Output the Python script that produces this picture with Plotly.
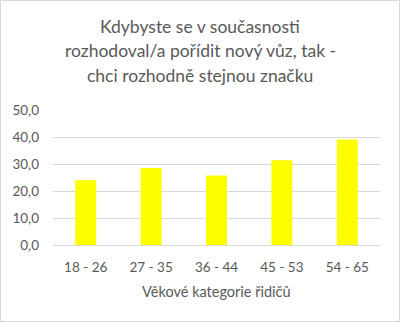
import plotly.graph_objects as go

categories = ["18 - 26", "27 - 35", "36 - 44", "45 - 53", "54 - 65"]
values = [24.0, 28.5, 25.7, 31.4, 39.1]
title_lines = ["Kdybyste se v současnosti",
               "rozhodoval/a pořídit nový vůz, tak -",
               "chci rozhodně stejnou značku"]
x_title = "Věkové kategorie řidičů"

FONT = "Lato"
GRAY = "#595959"

fig = go.Figure(go.Bar(x=categories, y=values, marker_color="#FFFF00", marker_line_width=0))

L, R, T, B = 53, 20, 110, 77
W, H = 400, 322
pw = W - L - R
ph = H - T - B

def py(p):
    return (T + ph - p) / ph

def px(p):
    return (p - L) / pw

fig.update_layout(
    width=W, height=H,
    margin=dict(l=L, r=R, t=T, b=B),
    paper_bgcolor="white", plot_bgcolor="white",
    separators=", ",
    bargap=0.68,
    showlegend=False,
    font=dict(family=FONT, color=GRAY, size=13),
    xaxis=dict(showgrid=False, showline=True, linecolor="#d9d9d9", linewidth=1,
               ticks="", tickfont=dict(size=13.5, color=GRAY), ticklabelstandoff=10),
    yaxis=dict(range=[0, 50], dtick=10, tickformat=".1f", showgrid=True, gridcolor="#d9d9d9",
               gridwidth=1, zeroline=False, showline=False, ticks="",
               tickfont=dict(size=13.5, color=GRAY), ticklabelstandoff=13),
)

for i, (line, ypix) in enumerate(zip(title_lines, [27, 51, 75])):
    fig.add_annotation(text=line, xref="paper", yref="paper", x=px(W / 2), y=py(ypix),
                       xanchor="center", yanchor="middle", showarrow=False,
                       font=dict(family=FONT, size=17.5, color=GRAY))

fig.add_annotation(text=x_title, xref="paper", yref="paper", x=px(W / 2 + 16), y=py(291),
                   xanchor="center", yanchor="middle", showarrow=False,
                   font=dict(family=FONT, size=14.5, color=GRAY))

fig.add_shape(type="rect", xref="paper", yref="paper",
              x0=px(0.5), x1=px(W - 0.5),
              y0=py(H - 0.5), y1=py(0.5),
              line=dict(color="#d9d9d9", width=1), fillcolor="rgba(0,0,0,0)", layer="below")

fig.write_html("out.html")
